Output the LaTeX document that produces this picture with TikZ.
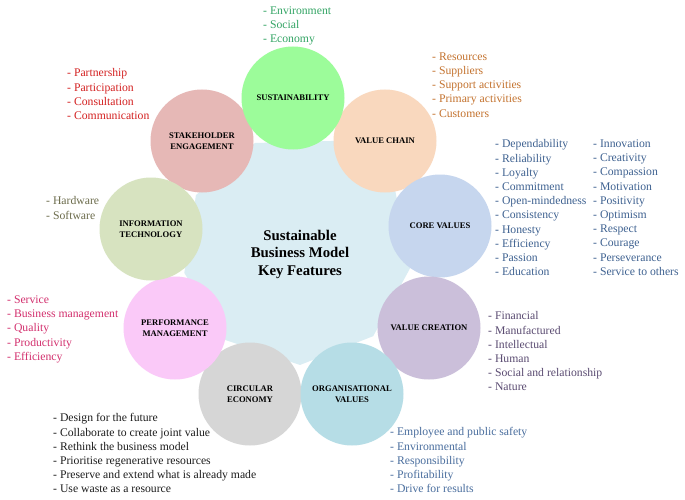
\documentclass[tikz,border=0pt]{standalone}
\usepackage{fontspec}
\setmainfont{Liberation Serif}
\definecolor{centrefill}{HTML}{DAEDF3}
\definecolor{susfill}{HTML}{9CFC9A}
\definecolor{vchfill}{HTML}{F9D8BE}
\definecolor{corefill}{HTML}{C6D6EE}
\definecolor{vcrfill}{HTML}{CBBFDA}
\definecolor{orgfill}{HTML}{B6DDE6}
\definecolor{cirfill}{HTML}{D6D6D6}
\definecolor{perfill}{HTML}{FAC9F8}
\definecolor{itfill}{HTML}{D7E3C0}
\definecolor{stkfill}{HTML}{E6B8B6}
\definecolor{suscol}{HTML}{34A565}
\definecolor{vchcol}{HTML}{C4732F}
\definecolor{corecol}{HTML}{3F6291}
\definecolor{vcrcol}{HTML}{5B4C72}
\definecolor{orgcol}{HTML}{4A6E9E}
\definecolor{circol}{HTML}{1E1E1E}
\definecolor{percol}{HTML}{D3306E}
\definecolor{itcol}{HTML}{6C6C4C}
\definecolor{stkcol}{HTML}{D42222}
\begin{document}
\begin{tikzpicture}[x=1pt,y=-1pt,
  circ/.style={circle, minimum size=103pt, inner sep=0pt, align=center,
    font=\fontsize{8.6}{10.5}\selectfont\bfseries},
  lst/.style={anchor=north west, align=left, inner sep=0pt,
    font=\fontsize{11.7}{14.2}\selectfont},
  title/.style={align=center, inner sep=0pt,
    font=\fontsize{14.8}{17.5}\selectfont\bfseries}]
\fill[white] (0,0) rectangle (685,500);
\useasboundingbox (0,0) rectangle (685,500);
\coordinate (cen) at (297,250);
\fill[centrefill] ([shift={(111.5:115pt)}]cen)
  \foreach \a in {71.5,31.5,-8.5,-48.5,-88.5,-128.5,-168.5,-208.5} { -- ([shift={(\a:115pt)}]cen) } -- cycle;
\node[title] (ttl) at (300,254) {Sustainable\\Business Model\\Key Features};
% circles
\node[circ, fill=stkfill] (stk) at (202,141) {STAKEHOLDER\\ENGAGEMENT};
\node[circ, fill=vchfill] (vch) at (385,141) {VALUE CHAIN};
\node[circ, fill=corefill] (core) at (440,226) {CORE VALUES};
\node[circ, fill=vcrfill] (vcr) at (429,328) {VALUE CREATION};
\node[circ, fill=cirfill] (cir) at (250,394) {CIRCULAR\\ECONOMY};
\node[circ, fill=orgfill] (org) at (352,394) {ORGANISATIONAL\\VALUES};
\node[circ, fill=perfill] (per) at (175,328) {PERFORMANCE\\MANAGEMENT};
\node[circ, fill=itfill] (it) at (151,229) {INFORMATION\\TECHNOLOGY};
\node[circ, fill=susfill] (sus) at (293,98) {SUSTAINABILITY};
% lists
\node[lst, text=suscol] (suslist) at (263,6.5) {- Environment\\- Social\\- Economy};
\node[lst, text=vchcol] (vchlist) at (432,52.5) {- Resources\\- Suppliers\\- Support activities\\- Primary activities\\- Customers};
\node[lst, text=corecol] (corelist1) at (495,139.5) {- Dependability\\- Reliability\\- Loyalty\\- Commitment\\- Open-mindedness\\- Consistency\\- Honesty\\- Efficiency\\- Passion\\- Education};
\node[lst, text=corecol] (corelist2) at (593,139.5) {- Innovation\\- Creativity\\- Compassion\\- Motivation\\- Positivity\\- Optimism\\- Respect\\- Courage\\- Perseverance\\- Service to others};
\node[lst, text=vcrcol] (vcrlist) at (488,311.5) {- Financial\\- Manufactured\\- Intellectual\\- Human\\- Social and relationship\\- Nature};
\node[lst, text=orgcol] (orglist) at (390,427.5) {- Employee and public safety\\- Environmental\\- Responsibility\\- Profitability\\- Drive for results};
\node[lst, text=circol] (cirlist) at (53,413.5) {- Design for the future\\- Collaborate to create joint value\\- Rethink the business model\\- Prioritise regenerative resources\\- Preserve and extend what is already made\\- Use waste as a resource};
\node[lst, text=percol] (perlist) at (7,295.5) {- Service\\- Business management\\- Quality\\- Productivity\\- Efficiency};
\node[lst, text=itcol] (itlist) at (46,196.5) {- Hardware\\- Software};
\node[lst, text=stkcol] (stklist) at (67,68.5) {- Partnership\\- Participation\\- Consultation\\- Communication};
\end{tikzpicture}
\end{document}
